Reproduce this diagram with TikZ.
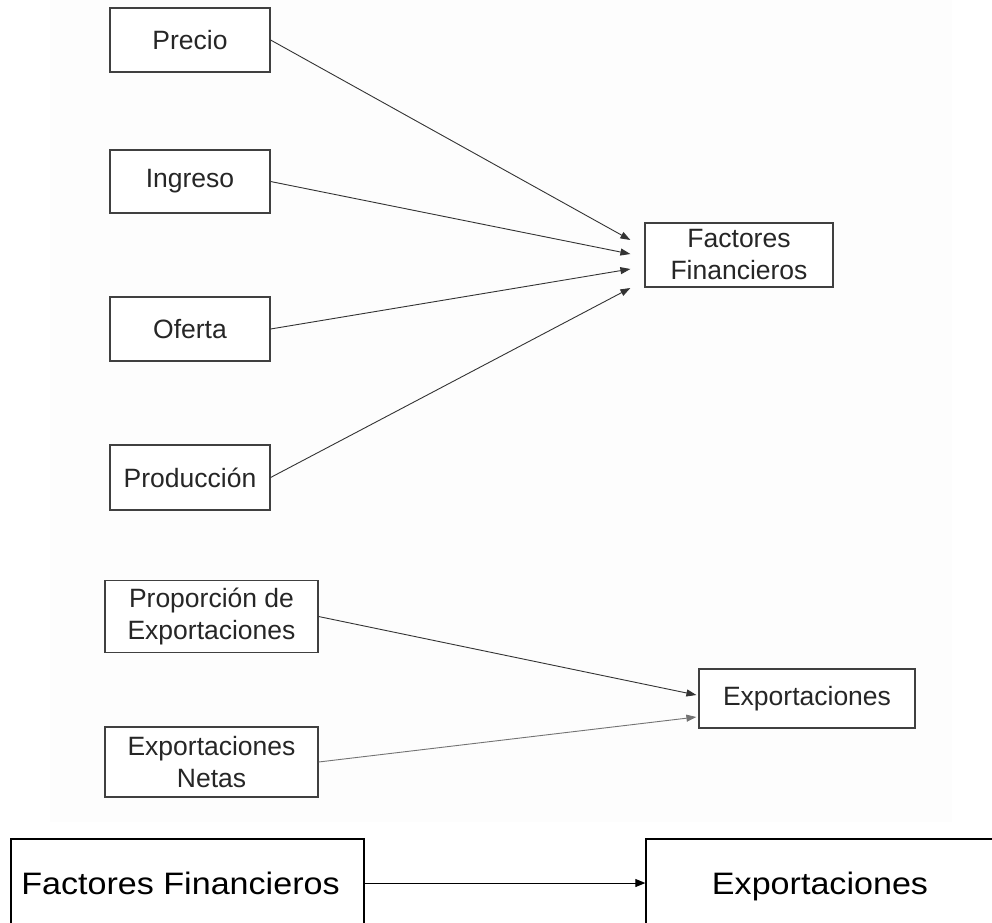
\documentclass[tikz,border=0pt]{standalone}
\usepackage{fontspec}
\setmainfont{Liberation Sans}
\usetikzlibrary{arrows.meta,calc}
\begin{document}
\begin{tikzpicture}[x=1pt,y=-1pt,
  box/.style={draw=black!75,line width=1.2pt,fill=white,inner sep=0pt,align=center,
    font=\fontsize{26.5}{32}\selectfont,text=black!85},
  conn/.style={draw=black!80,line width=0.9pt,-{Triangle[length=10pt,width=7pt]}},
  bigbox/.style={draw=black,line width=1.3pt,fill=white,inner xsep=0pt,inner ysep=0pt,
    text height=55pt,text depth=33pt,font=\fontsize{31}{37}\selectfont}]
\useasboundingbox (0,0) rectangle (992,922);
\fill[black!0.8] (50,0) rectangle (952,822);
% top group
\node[box,minimum width=160pt,minimum height=64pt] (precio) at (190,40) {Precio};
\node[box,minimum width=160pt,minimum height=63pt] (ingreso) at (190,181.5) {Ingreso};
\node[box,minimum width=160pt,minimum height=64pt] (oferta) at (190,329) {Oferta};
\node[box,minimum width=160pt,minimum height=65pt] (produccion) at (190,477.5) {Producción};
\node[box,minimum width=188pt,minimum height=64pt] (ff) at (739,255) {Factores\\Financieros};
\coordinate (ff1) at ($(ff.west)+(-14,-15)$);
\coordinate (ff2) at ($(ff.west)+(-14,-1)$);
\coordinate (ff3) at ($(ff.west)+(-14,14)$);
\coordinate (ff4) at ($(ff.west)+(-14,33)$);
\draw[conn] (precio.east) -- (ff1);
\draw[conn] (ingreso.east) -- (ff2);
\draw[conn] (oferta.east) -- (ff3);
\draw[conn] (produccion.east) -- (ff4);
% middle group
\node[box,minimum width=213pt,minimum height=72pt] (prop) at (211.5,616.5) {Proporción de\\Exportaciones};
\node[box,minimum width=213pt,minimum height=70pt] (netas) at (211.5,762) {Exportaciones\\Netas};
\node[box,minimum width=216pt,minimum height=59pt] (expo) at (807,698.5) {Exportaciones};
\coordinate (ex1) at ($(expo.west)+(-2,-3.5)$);
\coordinate (ex2) at ($(expo.west)+(-2,18.5)$);
\draw[conn] (prop.east) -- (ex1);
\draw[conn,draw=black!55] (netas.east) -- (ex2);
% bottom group
\node[bigbox,minimum width=353pt] (bff) at (187.5,883) {\hspace*{-7pt}\scalebox{1.1}[1]{Factores Financieros}\hspace*{7pt}};
\node[bigbox,minimum width=348pt] (bexp) at (820,883) {\scalebox{1.1}[1]{Exportaciones}};
\draw[line width=1pt,-{Triangle[length=10pt,width=8pt]}] (bff.east) -- (bexp.west);
\end{tikzpicture}
\end{document}
